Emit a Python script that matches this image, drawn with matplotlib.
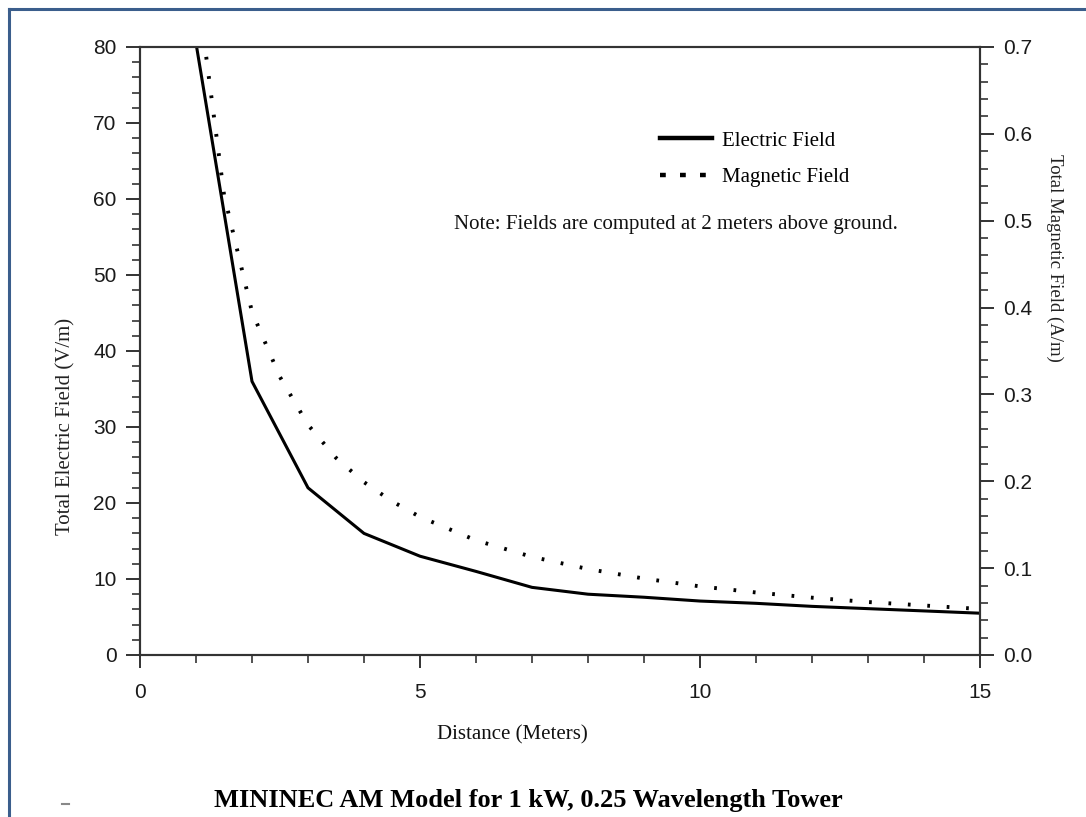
import numpy as np
import matplotlib.pyplot as plt
from matplotlib.lines import Line2D
from matplotlib.ticker import MultipleLocator

# Data
e_dist = [1, 2, 3, 4, 5, 6, 7, 8, 9, 10, 11, 12, 13, 14, 15]
e_field = [80.5, 36.0, 22.0, 16.0, 13.0, 11.0, 8.9, 8.0, 7.6, 7.1, 6.8, 6.4, 6.1, 5.8, 5.5]

m_dist = [1, 1.5, 2, 2.5, 3, 3.5, 4, 4.5, 5, 6, 7, 8, 9, 10, 11, 12, 13, 14, 15]
m_field = [0.78, 0.53, 0.395, 0.32, 0.265, 0.227, 0.199, 0.177, 0.159, 0.132,
           0.113, 0.099, 0.088, 0.079, 0.072, 0.066, 0.061, 0.057, 0.053]

x_ticks = [0, 5, 10, 15]
left_ticks = [0, 10, 20, 30, 40, 50, 60, 70, 80]
right_ticks = [0.0, 0.1, 0.2, 0.3, 0.4, 0.5, 0.6, 0.7]

serif = 'Liberation Serif'
sans = 'Liberation Sans'
spine_col = '#333333'
tick_col = '#1a1a1a'

fig = plt.figure(figsize=(10.86, 8.17), dpi=100)
ax = fig.add_axes([140 / 1086, 1 - 655 / 817, 840 / 1086, 608 / 817])
ax2 = ax.twinx()

ax.plot(e_dist, e_field, color='black', lw=2.2, solid_joinstyle='miter')
ax2.plot(m_dist, m_field, color='black', lw=2.8, linestyle=(0, (0.7, 4.3)))

ax.set_xlim(0, 15)
ax.set_ylim(0, 80)
ax2.set_ylim(0, 0.7)

ax.set_xticks(x_ticks)
ax.set_xticklabels([str(v) for v in x_ticks])
ax.set_yticks(left_ticks)
ax.set_yticklabels([str(v) for v in left_ticks])
ax2.set_yticks(right_ticks)
ax2.set_yticklabels([f'{v:.1f}' for v in right_ticks])
ax.xaxis.set_minor_locator(MultipleLocator(1))
ax.yaxis.set_minor_locator(MultipleLocator(2))
ax2.yaxis.set_minor_locator(MultipleLocator(0.02))

for a in (ax, ax2):
    for s in a.spines.values():
        s.set_color(spine_col)
        s.set_linewidth(1.5)
    a.tick_params(which='major', length=10, width=1.4, color=spine_col,
                  labelsize=15, labelcolor=tick_col, direction='out')
    a.tick_params(which='minor', length=6, width=1.2, color=spine_col, direction='out')
    for lab in a.get_xticklabels() + a.get_yticklabels():
        lab.set_fontfamily(sans)
ax.tick_params(axis='x', which='major', pad=11, length=9)
ax.tick_params(axis='y', which='major', pad=7)
ax2.tick_params(axis='y', which='major', pad=7)

ax.set_ylabel('Total Electric Field (V/m)', fontfamily=serif, fontsize=15, color='#222222')
ax.yaxis.set_label_coords(-65 / 840, (655 - 426) / 608)
ax2.set_ylabel('Total Magnetic Field (A/m)', fontfamily=serif, fontsize=13.5, rotation=-90,
               color='#222222', va='center')
ax2.yaxis.set_label_coords(1 + 75 / 840, (655 - 258) / 608)

fig.text(512 / 1086, 1 - 735 / 817, 'Distance (Meters)', fontfamily=serif, fontsize=15,
         ha='center', va='center', color='#111111')
fig.text(528 / 1086, 1 - 800 / 817, 'MININEC AM Model for 1 kW, 0.25 Wavelength Tower',
         fontfamily=serif, fontsize=19, fontweight='bold', ha='center', va='center')

handles = [Line2D([], [], color='black', lw=3.2),
           Line2D([], [], color='black', lw=3.2, linestyle=(0, (1.3, 3.2)))]
leg = ax.legend(handles, ['Electric Field', 'Magnetic Field'], loc='upper left',
                bbox_to_anchor=((660 - 140) / 840, (655 - 131) / 608), frameon=False,
                borderaxespad=0, borderpad=0, handlelength=2.5, handletextpad=0.5,
                labelspacing=0.8, prop={'family': serif, 'size': 15})

ax.text((898 - 140) / 840, (655 - 225) / 608, 'Note: Fields are computed at 2 meters above ground.',
        transform=ax.transAxes, fontfamily=serif, fontsize=15, ha='right', va='center',
        color='#111111')

# blue document frame (top and left edges)
border = '#3b5e8c'
fig.add_artist(Line2D([9 / 1086, 1], [1 - 9 / 817, 1 - 9 / 817], color=border, lw=2.2,
                      transform=fig.transFigure))
fig.add_artist(Line2D([9 / 1086, 9 / 1086], [0, 1 - 9 / 817], color=border, lw=2.2,
                      transform=fig.transFigure))
fig.add_artist(Line2D([62 / 1086, 69 / 1086], [1 - 804 / 817, 1 - 804 / 817], color='#888888', lw=1.5,
                      transform=fig.transFigure))

fig.savefig('out.png', dpi=100)
